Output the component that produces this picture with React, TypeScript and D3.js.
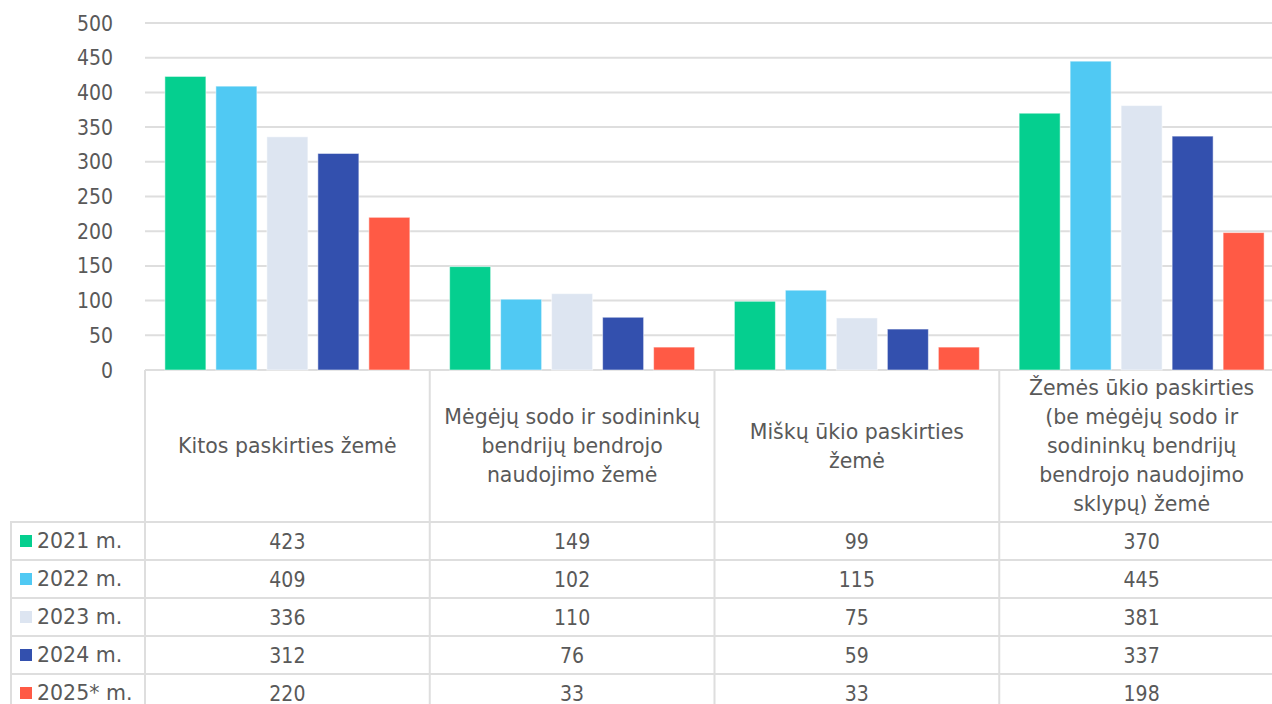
import React from "react";
import * as d3 from "d3";

const categories = [
  ["Kitos paskirties žemė"],
  ["Mėgėjų sodo ir sodininkų", "bendrijų bendrojo", "naudojimo žemė"],
  ["Miškų ūkio paskirties", "žemė"],
  ["Žemės ūkio paskirties", "(be mėgėjų sodo ir", "sodininkų bendrijų", "bendrojo naudojimo", "sklypų) žemė"],
];
const seriesNames = ["2021 m.", "2022 m.", "2023 m.", "2024 m.", "2025* m."];
const seriesColors = ["#05CF8F", "#50C9F3", "#DDE5F1", "#3350AE", "#FF5A45"];
const values2021 = [423, 149, 99, 370];
const values2022 = [409, 102, 115, 445];
const values2023 = [336, 110, 75, 381];
const values2024 = [312, 76, 59, 337];
const values2025 = [220, 33, 33, 198];
const seriesValues = [values2021, values2022, values2023, values2024, values2025];
const yTicks = [0, 50, 100, 150, 200, 250, 300, 350, 400, 450, 500];

const W = 1272;
const H = 704;
const FONT_NUM = "'DejaVu Sans Condensed', 'DejaVu Sans', Verdana, sans-serif";
const FONT_TXT = "'DejaVu Sans', Verdana, sans-serif";
const TEXT = "#595959";
const GRID = "#DEDEDE";

export default function App() {
  const catKeys = categories.map((_, i) => String(i));
  const x = d3.scaleBand<string>().domain(catKeys).range([145, 1284]).padding(0);
  const xs = d3
    .scaleBand<string>()
    .domain(seriesNames)
    .range([0, x.bandwidth()])
    .paddingInner(0.196)
    .paddingOuter(0.39);
  const y = d3.scaleLinear().domain([0, 500]).range([370, 23]);
  const headerTop = 370;
  const headerBottom = 522;
  const rowH = 38;
  const rows = d3
    .scaleBand<string>()
    .domain(seriesNames)
    .range([headerBottom, headerBottom + rowH * seriesNames.length]);
  const lineH = 29;
  const headerMid = (headerTop + headerBottom) / 2;

  return (
    <svg
      width={W}
      height={H}
      style={{ position: "absolute", left: 0, top: 0, background: "#fff" }}
      fontFamily={FONT_NUM}
    >
      {yTicks.map((t) => (
        <line key={"g" + t} x1={145} x2={W} y1={y(t)} y2={y(t)} stroke={GRID} strokeWidth={2} />
      ))}
      {yTicks.map((t) => (
        <text
          key={"t" + t}
          x={113}
          y={y(t)}
          dy="0.36em"
          textAnchor="end"
          fontSize={21}
          fill={TEXT}
        >
          {t}
        </text>
      ))}
      {seriesNames.map((s, si) =>
        seriesValues[si].map((v, ci) => (
          <rect
            key={s + ci}
            x={(x(String(ci)) ?? 0) + (xs(s) ?? 0)}
            y={y(v)}
            width={xs.bandwidth()}
            height={y(0) - y(v)}
            fill={seriesColors[si]}
            stroke="#ffffff"
            strokeOpacity={0.5}
            strokeWidth={1}
          />
        ))
      )}
      {catKeys.map((k) => (
        <line
          key={"v" + k}
          x1={x(k) ?? 0}
          x2={x(k) ?? 0}
          y1={headerTop}
          y2={H}
          stroke={GRID}
          strokeWidth={2}
        />
      ))}
      <line x1={1284} x2={1284} y1={headerTop} y2={H} stroke={GRID} strokeWidth={2} />
      <line x1={11} x2={11} y1={headerBottom} y2={H} stroke={GRID} strokeWidth={2} />
      {seriesNames.map((s) => (
        <line
          key={"h" + s}
          x1={10}
          x2={W}
          y1={rows(s) ?? 0}
          y2={rows(s) ?? 0}
          stroke={GRID}
          strokeWidth={2}
        />
      ))}
      {categories.map((lines, ci) => {
        const cx = (x(String(ci)) ?? 0) + x.bandwidth() / 2;
        const start = headerMid - ((lines.length - 1) * lineH) / 2;
        return lines.map((ln, li) => (
          <text
            key={"c" + ci + li}
            x={cx}
            y={start + li * lineH}
            dy="0.36em"
            textAnchor="middle"
            fontSize={20.5}
            fontFamily={FONT_TXT}
            fill={TEXT}
          >
            {ln}
          </text>
        ));
      })}
      {seriesNames.map((s, si) => {
        const ry = (rows(s) ?? 0) + rowH / 2;
        return (
          <g key={"r" + s}>
            <rect x={20} y={ry - 6} width={12} height={12} fill={seriesColors[si]} />
            <text x={37} y={ry} dy="0.36em" fontSize={20.5} fontFamily={FONT_TXT} fill={TEXT}>
              {s}
            </text>
            {seriesValues[si].map((v, ci) => (
              <text
                key={"v" + ci}
                x={(x(String(ci)) ?? 0) + x.bandwidth() / 2}
                y={ry}
                dy="0.36em"
                textAnchor="middle"
                fontSize={21}
                fill={TEXT}
              >
                {v}
              </text>
            ))}
          </g>
        );
      })}
    </svg>
  );
}
